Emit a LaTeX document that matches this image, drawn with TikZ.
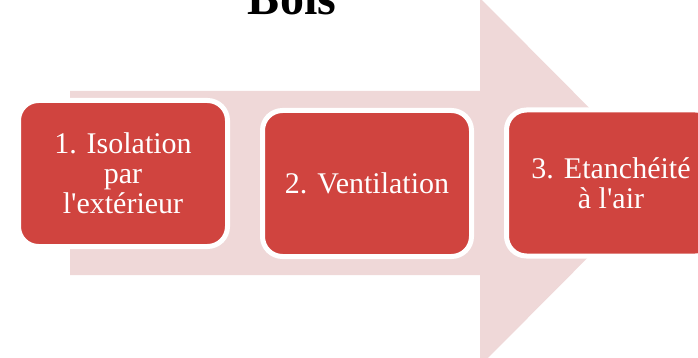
\documentclass[tikz,border=0pt]{standalone}
\usepackage{fontspec}
\setmainfont{Liberation Serif}[Ligatures=TeXOff]
\definecolor{boxred}{HTML}{D0443F}
\definecolor{arrowpink}{HTML}{EFD8D8}
\begin{document}
\begin{tikzpicture}[x=1pt,y=-1pt,
  stepbox/.style={rounded corners=20pt, fill=boxred, draw=white, line width=5pt,
    minimum width=209pt, minimum height=146pt, inner sep=0pt,
    text=white, align=center, font=\fontsize{30}{30}\selectfont}]
\useasboundingbox (0,0) rectangle (698,358);
\fill[arrowpink] (70,91) -- (480,91) -- (480,-2) -- (663,182) -- (480,366) -- (480,275) -- (70,275) -- cycle;
\node[stepbox] (s1) at (123,173.5) {1. Isolation\\par\\l'ext\'erieur};
\node[stepbox] (s2) at (367,183.5) {2. Ventilation};
\node[stepbox] (s3) at (611,183) {3. Etanch\'eit\'e\\\`a l'air};
\node[anchor=base, font=\fontsize{48}{48}\selectfont\bfseries, inner sep=0pt] (title) at (292,15) {Bois};
\end{tikzpicture}
\end{document}
